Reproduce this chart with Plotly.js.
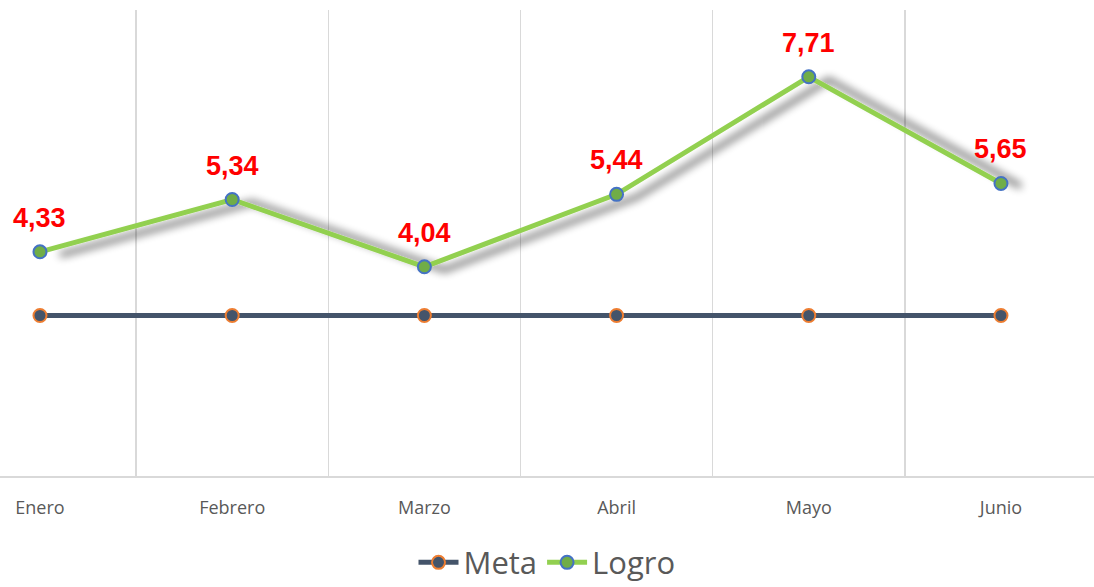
<!DOCTYPE html>
<html>
<head>
<meta charset="utf-8">
<script src="https://cdn.plot.ly/plotly-3.0.1.min.js"></script>
<style>
html,body{margin:0;padding:0;background:#fff;}
#chart{width:1094px;height:587px;}
</style>
</head>
<body>
<div id="chart"></div>
<script>
const categories = ["Enero", "Febrero", "Marzo", "Abril", "Mayo", "Junio"];
const meta = [3.1, 3.1, 3.1, 3.1, 3.1, 3.1];
const logro = [4.33, 5.34, 4.04, 5.44, 7.71, 5.65];

const fmt = v => v.toFixed(2).replace('.', ',');

const traces = [
  {
    name: "Meta", x: categories, y: meta, type: "scatter", mode: "lines+markers",
    line: {color: "#44546A", width: 5},
    marker: {size: 13, color: "#44546A", line: {color: "#ED7D31", width: 2}},
    hoverinfo: "skip"
  },
  {
    name: "Logro", x: categories, y: logro, type: "scatter", mode: "lines+markers",
    line: {color: "#92D050", width: 5},
    marker: {size: 13, color: "#70AD47", line: {color: "#4472C4", width: 2}},
    hoverinfo: "skip"
  }
];

const annotations = categories.map((c, i) => ({
  x: c, y: logro[i], xref: "x", yref: "y",
  text: fmt(logro[i]), showarrow: false,
  yanchor: "bottom", yshift: 17,
  font: {family: "Liberation Sans, Arial, sans-serif", size: 27, color: "#FF0000", weight: "bold"}
}));

const layout = {
  width: 1094, height: 587,
  margin: {l: 0, r: 0, t: 10, b: 111, autoexpand: false},
  paper_bgcolor: "#fff", plot_bgcolor: "#fff",
  showlegend: true,
  legend: {
    orientation: "h", x: 0.5, xanchor: "center", y: -0.186, yanchor: "middle",
    font: {family: "Open Sans, sans-serif", size: 31, color: "#595959"},
    itemwidth: 40, traceorder: "normal"
  },
  xaxis: {
    type: "category", range: [-0.208, 5.484],
    tickson: "boundaries", ticks: "",
    showgrid: true, gridcolor: "#D9D9D9", gridwidth: 1.5,
    showline: true, linecolor: "#D9D9D9", linewidth: 2,
    zeroline: false, fixedrange: true, automargin: false,
    tickfont: {family: "Open Sans, sans-serif", size: 18, color: "#595959"},
    ticklabelstandoff: 14
  },
  yaxis: {
    range: [0, 9], visible: false, showgrid: false, zeroline: false, fixedrange: true
  },
  annotations: annotations
};

Plotly.newPlot("chart", traces, layout, {displayModeBar: false, staticPlot: true}).then(gd => {
  const svg = gd.querySelector("svg.main-svg");
  const ns = "http://www.w3.org/2000/svg";
  let defs = svg.querySelector("defs");
  if (!defs) { defs = document.createElementNS(ns, "defs"); svg.insertBefore(defs, svg.firstChild); }
  const f = document.createElementNS(ns, "filter");
  f.setAttribute("id", "lineShadow");
  f.setAttribute("x", "-20%"); f.setAttribute("y", "-40%");
  f.setAttribute("width", "140%"); f.setAttribute("height", "180%");
  f.innerHTML = '<feGaussianBlur in="SourceAlpha" stdDeviation="4"/>' +
    '<feOffset dx="20" dy="3" result="ob"/>' +
    '<feComponentTransfer><feFuncA type="linear" slope="0.6"/></feComponentTransfer>' +
    '<feMerge><feMergeNode/><feMergeNode in="SourceGraphic"/></feMerge>';
  defs.appendChild(f);
  const tr = gd.querySelectorAll(".scatterlayer .trace");
  if (tr.length > 1) {
    const p = tr[1].querySelector("path.js-line");
    if (p) p.setAttribute("filter", "url(#lineShadow)");
  }
});
</script>
</body>
</html>
